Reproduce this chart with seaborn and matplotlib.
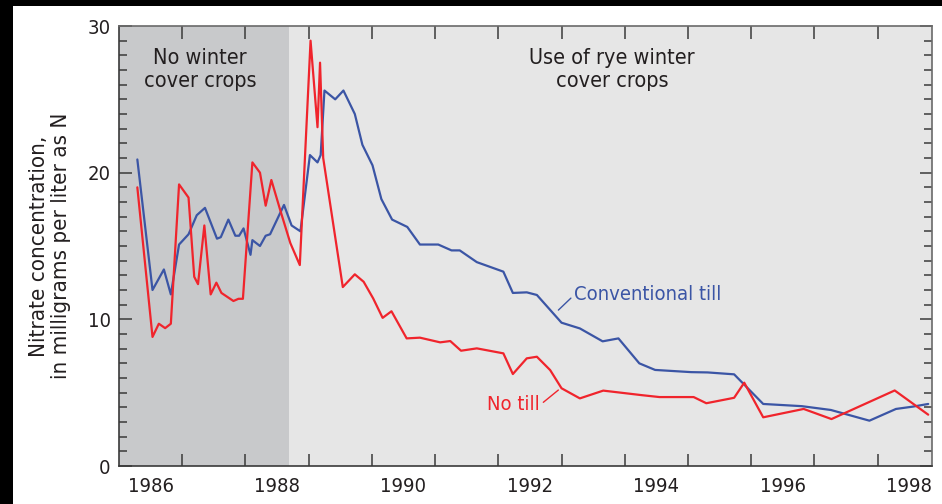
import matplotlib
matplotlib.use("Agg")
import matplotlib.pyplot as plt
from matplotlib.patches import Rectangle
import pandas as pd
import seaborn as sns

# Conventional till (blue) - decimal year, nitrate mg/L as N
conv_year = [1986.29, 1986.53, 1986.71, 1986.82, 1986.95, 1987.10, 1987.23, 1987.36, 1987.55, 1987.61,
             1987.73, 1987.84, 1987.90, 1987.97, 1988.08, 1988.11, 1988.23, 1988.32, 1988.39, 1988.50,
             1988.61, 1988.73, 1988.87, 1989.02, 1989.14, 1989.19, 1989.25, 1989.42, 1989.55, 1989.73,
             1989.85, 1990.01, 1990.15, 1990.32, 1990.56, 1990.76, 1991.05, 1991.26, 1991.39, 1991.66,
             1992.08, 1992.23, 1992.45, 1992.61, 1993.00, 1993.29, 1993.65, 1993.90, 1994.23, 1994.48,
             1995.05, 1995.31, 1995.73, 1996.19, 1996.80, 1997.26, 1997.87, 1998.29, 1998.56, 1998.80]
conv_no3 = [20.9, 12.0, 13.4, 11.7, 15.1, 15.8, 17.1, 17.6, 15.5, 15.6,
            16.8, 15.7, 15.7, 16.2, 14.4, 15.4, 15.0, 15.7, 15.8, 16.8,
            17.8, 16.4, 16.0, 21.2, 20.7, 21.2, 25.6, 25.0, 25.6, 24.0,
            21.9, 20.5, 18.2, 16.8, 16.3, 15.1, 15.1, 14.7, 14.7, 13.9,
            13.25, 11.8, 11.84, 11.66, 9.77, 9.38, 8.5, 8.7, 7.0, 6.55,
            6.4, 6.38, 6.25, 4.23, 4.08, 3.82, 3.09, 3.89, 4.05, 4.23]

# No till (red)
notill_year = [1986.29, 1986.53, 1986.63, 1986.73, 1986.82, 1986.95, 1987.10, 1987.19, 1987.25, 1987.35,
               1987.45, 1987.54, 1987.62, 1987.81, 1987.89, 1987.96, 1988.11, 1988.23, 1988.32, 1988.41,
               1988.55, 1988.71, 1988.86, 1989.03, 1989.14, 1989.18, 1989.23, 1989.54, 1989.73, 1989.87,
               1990.02, 1990.17, 1990.31, 1990.55, 1990.76, 1991.08, 1991.24, 1991.41, 1991.66, 1992.08,
               1992.23, 1992.45, 1992.61, 1992.82, 1993.00, 1993.29, 1993.66, 1994.27, 1994.55, 1995.09,
               1995.29, 1995.73, 1995.89, 1996.19, 1996.83, 1997.27, 1998.27, 1998.80]
notill_no3 = [19.0, 8.8, 9.7, 9.4, 9.7, 19.2, 18.3, 12.9, 12.4, 16.4,
              11.7, 12.5, 11.8, 11.25, 11.4, 11.4, 20.7, 20.0, 17.75, 19.5,
              17.45, 15.2, 13.7, 29.0, 23.1, 27.5, 21.0, 12.2, 13.07, 12.56,
              11.43, 10.1, 10.55, 8.7, 8.75, 8.43, 8.52, 7.86, 8.02, 7.68,
              6.27, 7.34, 7.45, 6.54, 5.3, 4.61, 5.14, 4.83, 4.7, 4.7,
              4.28, 4.65, 5.68, 3.32, 3.89, 3.2, 5.15, 3.5]

year_labels = ["1986", "1988", "1990", "1992", "1994", "1996", "1998"]
cover_crop_start = 1988.69

BLUE = "#3b55a5"
RED = "#f0242c"
INK = "#231f20"

sns.set_style("ticks")
plt.rcParams["font.family"] = ["DejaVu Sans"]
plt.rcParams["font.stretch"] = "condensed"

df = pd.concat([
    pd.DataFrame({"Year": conv_year, "Nitrate": conv_no3, "Tillage": "Conventional till"}),
    pd.DataFrame({"Year": notill_year, "Nitrate": notill_no3, "Tillage": "No till"}),
])

fig = plt.figure(figsize=(9.42, 5.04), dpi=100)
fig.patch.set_facecolor("black")
fig.add_artist(Rectangle((13 / 942, 0), 1, 1 - 6 / 504, transform=fig.transFigure,
                         facecolor="white", edgecolor="none", zorder=-10))
ax = fig.add_axes([119 / 942, 38 / 504, 813 / 942, 440 / 504])
ax.set_facecolor("#e6e6e6")
ax.axvspan(1986, cover_crop_start, color="#c8c9cb", lw=0, zorder=0)

sns.lineplot(data=df, x="Year", y="Nitrate", hue="Tillage", sort=False, estimator=None,
             palette={"Conventional till": BLUE, "No till": RED}, lw=1.6, legend=False, ax=ax)

ax.set_xlim(1986, 1998.86)
ax.set_ylim(0, 30)

# year boundary ticks (unlabelled) and labels centred within the year
ax.set_xticks(range(1987, 1999))
ax.set_xticklabels([])
ax.set_xticks([int(y) + 0.5 for y in year_labels], minor=True)
ax.set_xticklabels(year_labels, minor=True)
ax.tick_params(axis="x", which="major", direction="in", length=9, width=1.1,
               color="#3a3a3a", top=True, bottom=True)
ax.tick_params(axis="x", which="minor", length=0, pad=8, labelsize=14.5, labelcolor=INK)

ax.set_yticks([0, 10, 20, 30])
ax.set_yticks(range(0, 31), minor=True)
ax.tick_params(axis="y", which="major", direction="in", length=9, width=1.1,
               color="#3a3a3a", left=True, right=True, labelsize=14.5, labelcolor=INK, pad=6)
ax.tick_params(axis="y", which="minor", direction="in", length=6, width=1.1,
               color="#3a3a3a", left=True, right=True)

for s in ax.spines.values():
    s.set_color("#6a6a6a")
    s.set_linewidth(1.2)
ax.spines["left"].set_color("#3a3a3a")
ax.spines["bottom"].set_color("#3a3a3a")

ax.set_xlabel("")
ax.set_ylabel("Nitrate concentration,\nin milligrams per liter as N", fontsize=16,
              color=INK, labelpad=12, linespacing=1.1)

ax.text(1987.28, 27.06, "No winter\ncover crops", ha="center", va="center",
        fontsize=15.5, color=INK, linespacing=1.2)
ax.text(1993.8, 27.06, "Use of rye winter\ncover crops", ha="center", va="center",
        fontsize=15.5, color=INK, linespacing=1.2)

ax.annotate("Conventional till", xy=(1992.95, 10.63), xytext=(1993.2, 11.66),
            color=BLUE, fontsize=14.5, ha="left", va="center",
            arrowprops=dict(arrowstyle="-", color=BLUE, lw=1, shrinkA=0, shrinkB=0,
                            relpos=(0, 0.5)))
ax.annotate("No till", xy=(1992.95, 5.18), xytext=(1992.66, 4.16),
            color=RED, fontsize=14.5, ha="right", va="center",
            arrowprops=dict(arrowstyle="-", color=RED, lw=1, shrinkA=0, shrinkB=0,
                            relpos=(1, 0.5)))

fig.savefig("out.png", dpi=100, facecolor=fig.get_facecolor())
